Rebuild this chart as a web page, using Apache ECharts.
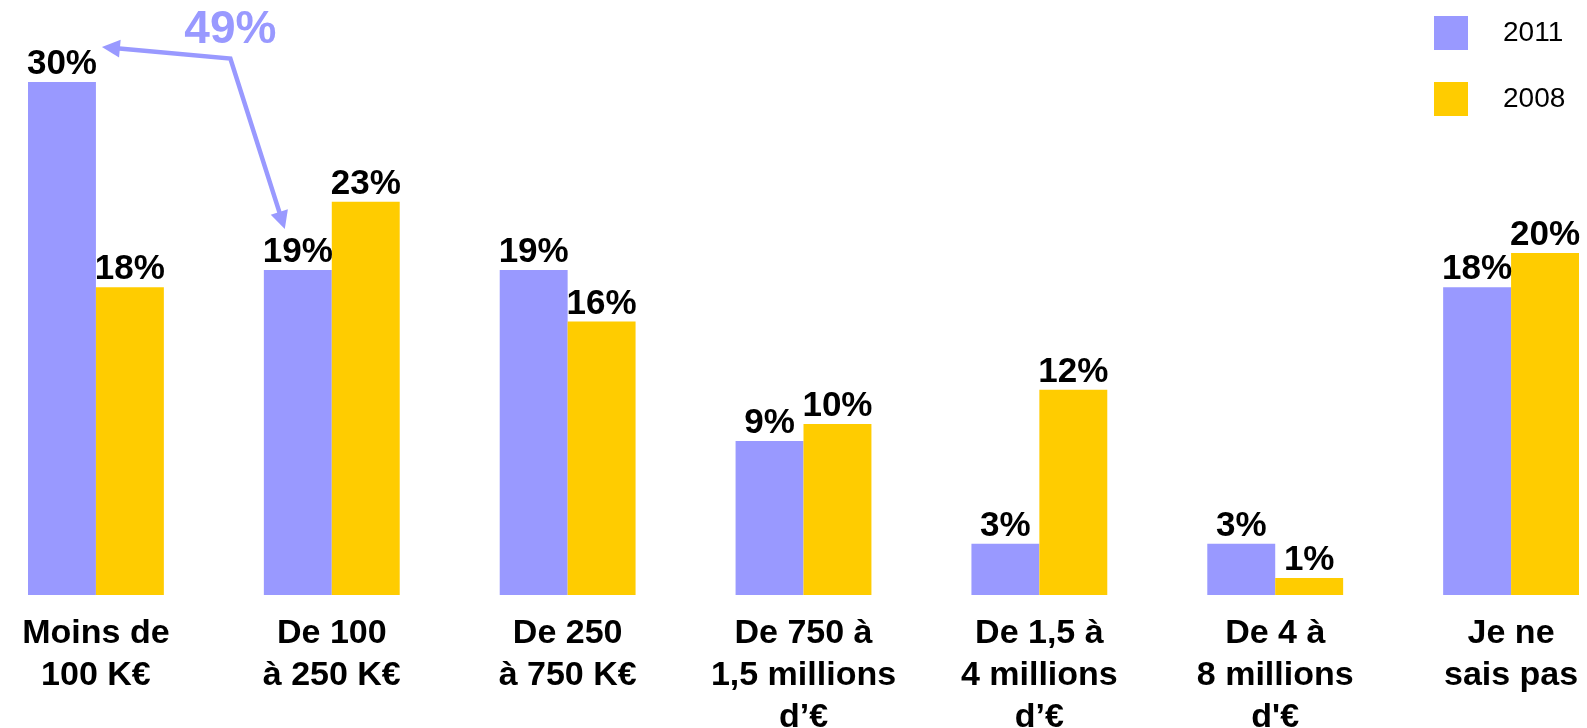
<!DOCTYPE html>
<html>
<head>
<meta charset="utf-8">
<script src="https://cdn.jsdelivr.net/npm/echarts@6/dist/echarts.min.js"></script>
<style>
  html, body { margin: 0; padding: 0; background: #ffffff; }
  #chart { width: 1587px; height: 728px; }
</style>
</head>
<body>
<div id="chart"></div>
<script>
// Budget brackets (categories) and share of answers per survey year
const categories = [
  'Moins de\n100 K€',
  'De 100\nà 250 K€',
  'De 250\nà 750 K€',
  'De 750 à\n1,5 millions\nd’€',
  'De 1,5 à\n4 millions\nd’€',
  'De 4 à\n8 millions\nd\'€',
  'Je ne\nsais pas'
];
const seriesNames = ['2011', '2008'];
const values2011 = [30, 19, 19, 9, 3, 3, 18];
const values2008 = [18, 23, 16, 10, 12, 1, 20];

const PURPLE = '#9999FF';
const YELLOW = '#FFCC00';
const FONT = '"Liberation Sans", Arial, sans-serif';

const chart = echarts.init(document.getElementById('chart'), null, { renderer: 'canvas' });

const barLabel = {
  show: true,
  position: 'top',
  distance: 0,
  formatter: p => p.value + '%',
  color: '#000000',
  fontFamily: FONT,
  fontWeight: 'bold',
  fontSize: 35
};

chart.setOption({
  animation: false,
  backgroundColor: '#ffffff',
  grid: {
    left: -22, right: -42, top: 82, bottom: 133,
    containLabel: false,
    outerBoundsMode: 'none'
  },
  legend: {
    data: seriesNames,
    orient: 'vertical',
    left: 1434,
    top: 16,
    padding: 0,
    itemWidth: 34,
    itemHeight: 34,
    itemGap: 32,
    icon: 'rect',
    textStyle: { fontFamily: FONT, fontSize: 28, color: '#000000', padding: [0, 0, 0, 30] }
  },
  xAxis: {
    type: 'category',
    data: categories,
    axisLine: { show: false },
    axisTick: { show: false },
    axisLabel: {
      interval: 0,
      margin: 18,
      color: '#000000',
      fontFamily: FONT,
      fontWeight: 'bold',
      fontSize: 34,
      lineHeight: 42
    }
  },
  yAxis: {
    type: 'value',
    min: 0,
    max: 30,
    show: false,
    splitLine: { show: false }
  },
  series: [
    {
      name: seriesNames[0],
      type: 'bar',
      data: values2011,
      barGap: '0%',
      barCategoryGap: '42.4%',
      itemStyle: { color: PURPLE },
      label: barLabel
    },
    {
      name: seriesNames[1],
      type: 'bar',
      data: values2008,
      barGap: '0%',
      barCategoryGap: '42.4%',
      itemStyle: { color: YELLOW },
      label: barLabel
    }
  ]
});

// Bracket annotation: the two lowest budget brackets of 2011 combined
const p0 = chart.convertToPixel({ gridIndex: 0 }, [0, values2011[0]]);
const p1 = chart.convertToPixel({ gridIndex: 0 }, [1, values2011[1]]);
const tipLeft = [p0[0] + 6, p0[1] - 35];
const knee = [(p0[0] + p1[0]) / 2 + 16.5, p0[1] - 23.5];
const tipDown = [p1[0] - 47, p1[1] - 41];

// Triangle arrow head pointing from `from` to `to`
function arrowHead(from, to, len, half) {
  const dx = to[0] - from[0], dy = to[1] - from[1];
  const d = Math.hypot(dx, dy);
  const ux = dx / d, uy = dy / d;
  const bx = to[0] - ux * len, by = to[1] - uy * len;
  return [to, [bx - uy * half, by + ux * half], [bx + uy * half, by - ux * half]];
}
// Point a little short of `to`, so the shaft ends inside the head
function shortOf(from, to, back) {
  const dx = to[0] - from[0], dy = to[1] - from[1];
  const d = Math.hypot(dx, dy);
  return [to[0] - dx / d * back, to[1] - dy / d * back];
}

chart.setOption({
  graphic: [
    {
      type: 'polyline',
      shape: { points: [shortOf(knee, tipLeft, 12), knee, shortOf(knee, tipDown, 12)] },
      style: { stroke: PURPLE, lineWidth: 4.5, fill: null },
      z: 10
    },
    {
      type: 'polygon',
      shape: { points: arrowHead(knee, tipLeft, 18, 9) },
      style: { fill: PURPLE },
      z: 10
    },
    {
      type: 'polygon',
      shape: { points: arrowHead(knee, tipDown, 18, 9) },
      style: { fill: PURPLE },
      z: 10
    },
    {
      type: 'text',
      x: knee[0],
      y: knee[1] - 28,
      style: {
        text: (values2011[0] + values2011[1]) + '%',
        fill: PURPLE,
        font: 'bold 46px ' + FONT,
        align: 'center',
        verticalAlign: 'middle'
      },
      z: 10
    }
  ]
});
</script>
</body>
</html>
